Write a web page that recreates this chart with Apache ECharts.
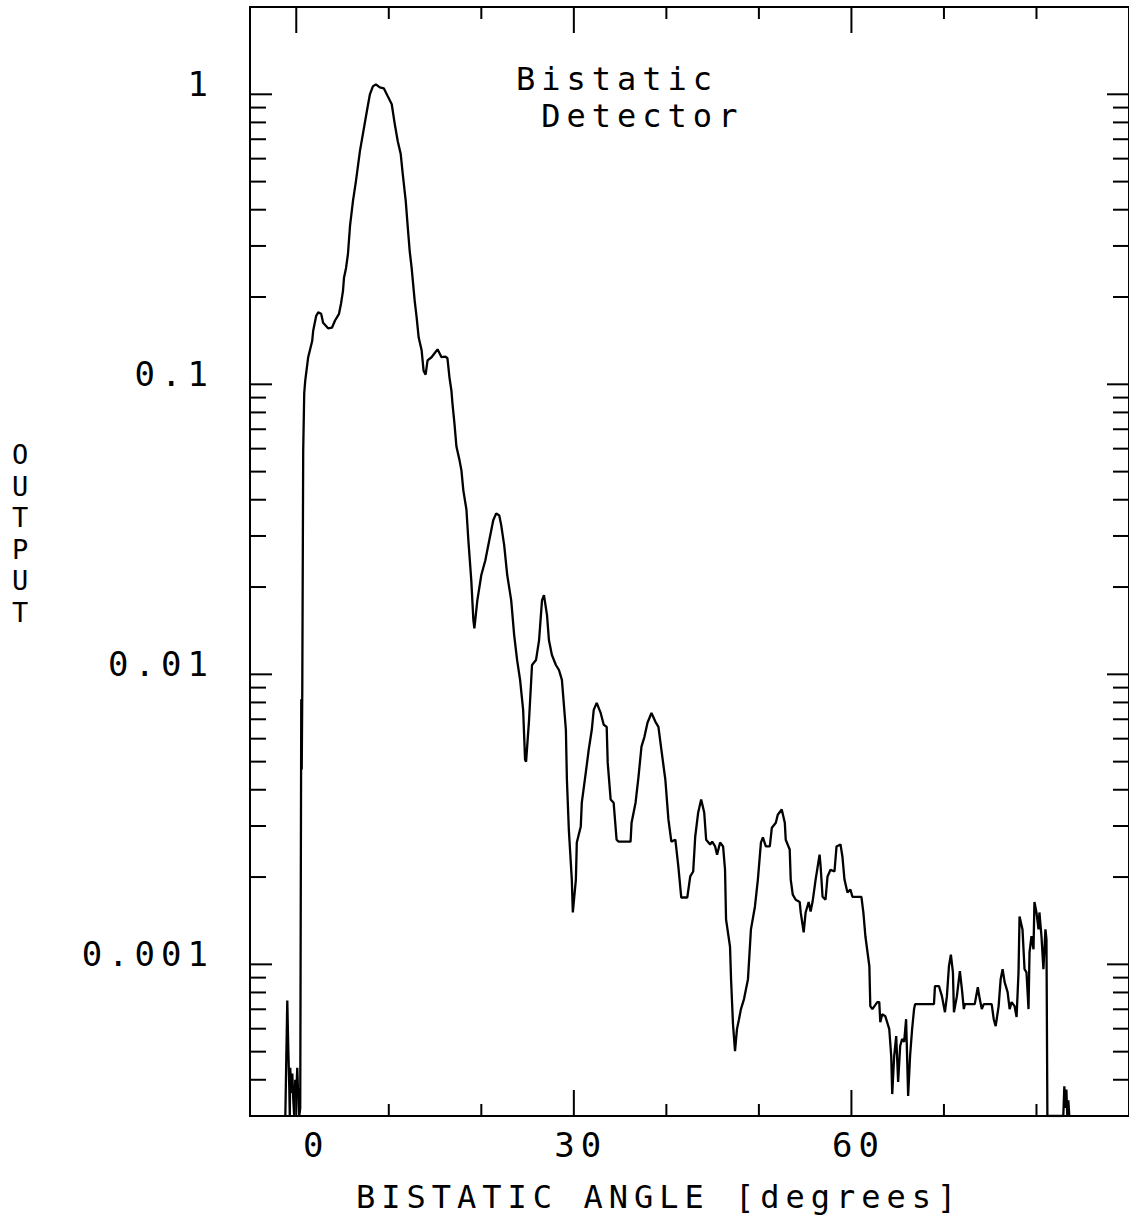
<!DOCTYPE html>
<html><head><meta charset="utf-8">
<script src="https://cdn.jsdelivr.net/npm/echarts@6/dist/echarts.min.js"></script>
<style>
html,body{margin:0;padding:0;background:#fff;}
#main{width:1129px;height:1226px;}
#main text{letter-spacing:6px;}
</style></head><body><div id="main"></div>
<script>
// Bistatic angle [degrees]
const angles = [-1.18,-1.08,-0.97,-0.86,-0.75,-0.70,-0.65,-0.54,-0.43,-0.32,-0.22,-0.11,0.00,0.11,0.22,0.32,0.43,0.54,0.59,0.65,
0.75,0.86,0.97,1.29,1.72,1.83,2.15,2.37,2.69,2.90,3.44,3.87,4.19,4.62,4.84,5.05,5.16,5.38,5.59,5.81,
6.13,6.45,6.88,7.20,7.63,7.96,8.28,8.60,9.03,9.46,9.89,10.32,10.65,10.97,11.29,11.51,11.83,12.04,12.26,12.47,
12.80,13.01,13.23,13.55,13.76,13.98,14.19,14.62,14.95,15.27,15.70,16.13,16.34,16.56,16.77,16.88,17.10,17.31,17.63,17.85,
18.06,18.39,18.60,18.92,19.14,19.25,19.57,20.00,20.43,20.86,21.29,21.61,21.94,22.15,22.47,22.80,23.23,23.55,23.87,24.19,
24.52,24.73,24.84,25.16,25.48,25.91,26.24,26.56,26.77,27.10,27.31,27.63,28.06,28.39,28.71,29.14,29.25,29.46,29.78,29.89,
30.22,30.32,30.75,30.86,31.29,31.61,31.94,32.15,32.47,32.90,33.23,33.55,33.66,33.98,34.30,34.62,34.84,36.13,36.24,36.67,
36.99,37.31,37.63,37.96,38.39,38.82,39.14,39.46,39.89,40.22,40.54,40.97,41.29,41.61,42.26,42.58,42.90,43.12,43.44,43.76,
44.09,44.30,44.73,44.95,45.27,45.48,45.81,46.13,46.34,46.45,46.88,46.99,47.20,47.42,47.63,47.85,48.06,48.39,48.82,49.14,
49.57,49.89,50.22,50.43,50.75,51.18,51.40,51.83,52.04,52.47,52.80,52.90,53.33,53.44,53.66,53.98,54.41,54.52,54.84,55.05,
55.38,55.59,55.81,56.13,56.56,56.67,56.88,57.20,57.42,57.74,58.17,58.39,58.82,59.03,59.25,59.57,59.89,60.11,61.08,61.29,
61.51,61.94,62.04,62.26,62.80,63.01,63.12,63.33,63.66,64.09,64.30,64.41,64.62,64.84,65.05,65.27,65.48,65.70,65.91,66.13,
66.34,66.56,66.77,66.88,68.92,69.03,69.46,69.78,70.11,70.32,70.54,70.75,70.97,71.08,71.40,71.72,71.94,72.15,72.26,73.33,
73.66,73.87,74.09,74.30,75.16,75.38,75.59,75.91,76.13,76.34,76.56,76.88,77.10,77.31,77.63,77.85,78.06,78.17,78.49,78.71,
78.92,79.14,79.25,79.46,79.68,79.78,80.00,80.22,80.32,80.54,80.75,80.97,81.08,81.18,82.90,83.01,83.12,83.23,83.33,83.44,
83.55];
// Output (log scale)
const outputs = [3.0e-4,4.7e-4,7.5e-4,5.1e-4,3.7e-4,3.0e-4,4.4e-4,3.6e-4,4.2e-4,3.4e-4,3.0e-4,4.0e-4,3.6e-4,4.4e-4,3.4e-4,3.0e-4,3.2e-4,8.2e-3,4.7e-3,8.8e-3,
0.059,0.093,0.103,0.124,0.141,0.153,0.172,0.177,0.175,0.163,0.156,0.157,0.166,0.175,0.190,0.210,0.233,0.252,0.282,0.352,
0.429,0.502,0.637,0.729,0.874,1.0,1.065,1.082,1.057,1.049,0.984,0.924,0.788,0.689,0.622,0.531,0.429,0.352,0.288,0.252,
0.194,0.170,0.145,0.131,0.1115,0.108,0.121,0.124,0.128,0.132,0.124,0.1245,0.123,0.1055,0.095,0.086,0.073,0.061,0.055,0.0505,
0.043,0.037,0.029,0.021,0.0154,0.0144,0.018,0.022,0.0247,0.029,0.034,0.0359,0.0353,0.0327,0.0279,0.022,0.018,0.01366,0.0112,0.00957,
0.00754,0.00508,0.0050,0.00697,0.01077,0.0112,0.0131,0.018,0.01875,0.016,0.0131,0.01166,0.01077,0.01035,0.00957,0.00644,0.00433,0.00291,0.00196,0.00151,
0.00196,0.00263,0.00299,0.00361,0.00458,0.0055,0.00644,0.00754,0.00797,0.00736,0.0067,0.00659,0.00496,0.0037,0.00361,0.00269,0.00265,0.00265,0.00308,0.00361,
0.00444,0.00563,0.00609,0.00681,0.00736,0.00686,0.00659,0.0055,0.00433,0.00316,0.00265,0.00269,0.00218,0.0017,0.0017,0.00201,0.00209,0.00276,0.00334,0.0037,
0.00334,0.00269,0.00259,0.00265,0.00255,0.00239,0.00263,0.00255,0.00212,0.00143,0.00115,0.00089,0.000622,0.000502,0.000598,0.000647,0.000701,0.000759,0.000889,0.00132,
0.00158,0.00196,0.00263,0.00274,0.00255,0.00255,0.00296,0.00308,0.00328,0.00342,0.00308,0.00269,0.00249,0.00196,0.00174,0.00167,0.00164,0.00151,0.00129,0.00151,
0.00164,0.00152,0.00165,0.00196,0.00239,0.00218,0.00171,0.00167,0.00201,0.00212,0.00209,0.00255,0.00259,0.00235,0.00196,0.00177,0.00181,0.00171,0.00171,0.00151,
0.00125,0.000985,0.000718,0.000701,0.000741,0.000741,0.000632,0.000673,0.000663,0.000598,0.000483,0.000357,0.000483,0.000566,0.000393,0.000523,0.000553,0.00054,0.000647,0.000352,
0.000483,0.000598,0.000701,0.000729,0.000729,0.000841,0.000841,0.000777,0.000684,0.000777,0.000985,0.00108,0.000939,0.000684,0.000777,0.000947,0.000821,0.000701,0.000729,0.000729,
0.000834,0.000759,0.000701,0.000729,0.000729,0.000647,0.000612,0.000718,0.000889,0.000962,0.000868,0.000802,0.000701,0.000741,0.000718,0.000658,0.000939,0.001463,0.00132,0.000962,
0.000939,0.000701,0.0011,0.00125,0.001127,0.00164,0.00151,0.00132,0.00151,0.00125,0.000962,0.00132,0.00122,3.0e-4,3.0e-4,3.8e-4,3.2e-4,3.7e-4,3.0e-4,3.4e-4,
3.0e-4];

const xTickValues = [0,10,20,30,40,50,60,70,80];
const xMajorTicks = [0,30,60];
const xLabelValues = [0,30,60];
const yTickValues = [1,0.9,0.8,0.7,0.6,0.5,0.4,0.3,0.2,
  0.1,0.09,0.08,0.07,0.06,0.05,0.04,0.03,0.02,
  0.01,0.009,0.008,0.007,0.006,0.005,0.004,0.003,0.002,
  0.001,0.0009,0.0008,0.0007,0.0006,0.0005,0.0004];
const yMajorTicks = [1,0.1,0.01,0.001];
const yLabelTexts = ['1','0.1','0.01','0.001'];

const FONT = '"DejaVu Sans Mono", "Liberation Mono", monospace';
const chart = echarts.init(document.getElementById('main'), null, {renderer:'svg'});

chart.setOption({
  animation:false,
  backgroundColor:'#fff',
  grid:{left:250, top:7, width:883, height:1109, show:true, borderColor:'#000', borderWidth:2, backgroundColor:'transparent'},
  xAxis:{type:'value', min:-5, max:90,
    axisLine:{show:false}, axisTick:{show:false}, splitLine:{show:false},
    axisLabel:{customValues:xLabelValues, margin:12, color:'#000', fontFamily:FONT, fontSize:34,
      formatter:function(v){ return v===0 ? '{z|0}' : '{a|' + v + '}'; },
      rich:{
        z:{fontFamily:FONT, fontSize:34, color:'#000', padding:[0,0,0,40]},
        a:{fontFamily:FONT, fontSize:34, color:'#000', padding:[0,0,0,14]}
      }}
  },
  yAxis:{type:'log', logBase:10, min:3e-4, max:2,
    axisLine:{show:false}, axisTick:{show:false}, axisLabel:{show:false}, splitLine:{show:false}},
  series:[
    {type:'line', data:angles.map(function(a,i){return [a, outputs[i]];}),
     showSymbol:false, symbol:'none', clip:true, z:3,
     lineStyle:{color:'#000', width:2.3}},
    {type:'custom', coordinateSystem:'cartesian2d', silent:true, z:4,
     data:yTickValues.map(function(v){return [0,v];}), encode:{x:0,y:1},
     renderItem:function(params, api){
       const cs = params.coordSys;
       const v = api.value(1);
       const y = api.coord([0, v])[1];
       const len = yMajorTicks.indexOf(v) >= 0 ? 22 : 16;
       return {type:'group', children:[
         {type:'line', shape:{x1:cs.x, y1:y, x2:cs.x+len, y2:y}, style:{stroke:'#000', lineWidth:2}},
         {type:'line', shape:{x1:cs.x+cs.width, y1:y, x2:cs.x+cs.width-len, y2:y}, style:{stroke:'#000', lineWidth:2}}
       ]};
     }},
    {type:'custom', coordinateSystem:'cartesian2d', silent:true, z:4,
     data:xTickValues.map(function(v){return [v,1];}), encode:{x:0,y:1},
     renderItem:function(params, api){
       const cs = params.coordSys;
       const v = api.value(0);
       const x = api.coord([v, 1])[0];
       const len = xMajorTicks.indexOf(v) >= 0 ? 26 : 12;
       return {type:'group', children:[
         {type:'line', shape:{x1:x, y1:cs.y+cs.height, x2:x, y2:cs.y+cs.height-len}, style:{stroke:'#000', lineWidth:2}},
         {type:'line', shape:{x1:x, y1:cs.y, x2:x, y2:cs.y+len}, style:{stroke:'#000', lineWidth:2}}
       ]};
     }},
    {type:'custom', coordinateSystem:'cartesian2d', silent:true, z:4,
     data:yMajorTicks.map(function(v){return [0,v];}), encode:{x:0,y:1},
     renderItem:function(params, api){
       const cs = params.coordSys;
       const v = api.value(1);
       const y = api.coord([0, v])[1];
       return {type:'text', style:{text:yLabelTexts[params.dataIndex], x:cs.x-36, y:y+7,
         align:'right', verticalAlign:'bottom', fill:'#000', font:'34px '+FONT}};
     }}
  ],
  graphic:[
    {type:'text', x:516, y:60, style:{text:'Bistatic\n Detector', font:'32px '+FONT, fill:'#000', lineHeight:37, align:'left', verticalAlign:'top'}},
    {type:'text', x:356, y:1181, style:{text:'BISTATIC ANGLE [degrees]', font:'32px '+FONT, fill:'#000', align:'left', verticalAlign:'top'}},
    {type:'text', x:23, y:439, style:{text:'O\nU\nT\nP\nU\nT', font:'27px '+FONT, fill:'#000', lineHeight:31.5, align:'center', verticalAlign:'top'}}
  ]
});
</script></body></html>
